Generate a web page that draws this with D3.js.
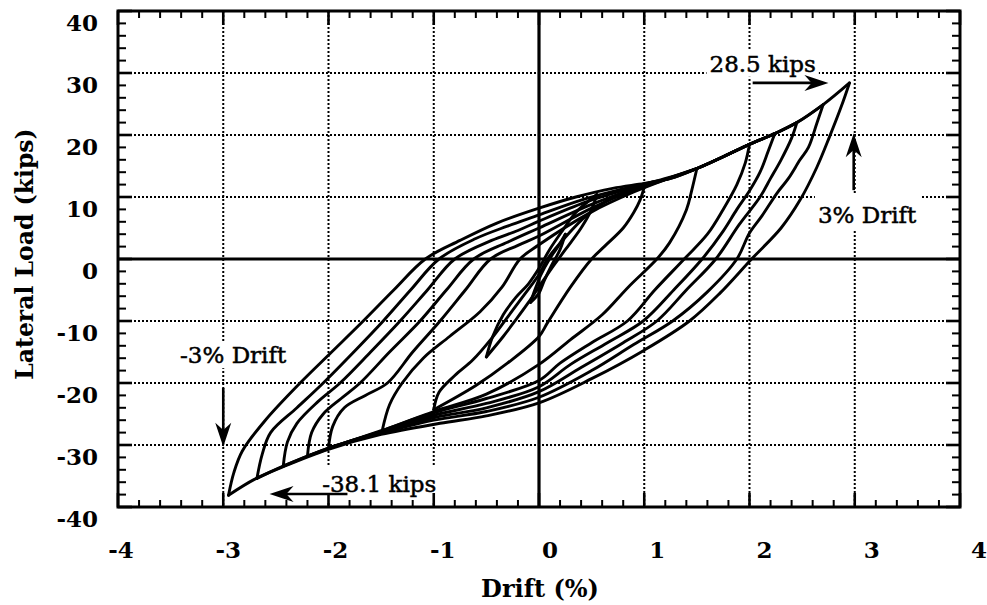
<!DOCTYPE html>
<html>
<head>
<meta charset="utf-8">
<script src="https://cdn.jsdelivr.net/npm/d3@7"></script>
<style>
  body { margin: 0; background: #fff; }
  svg { display: block; }
  text { font-family: "DejaVu Serif", serif; fill: #000; }
</style>
</head>
<body>
<svg width="987" height="605"></svg>
<script>
// axis ticks
const xTicks = [-4, -3, -2, -1, 0, 1, 2, 3, 4];
const yTicks = [-40, -30, -20, -10, 0, 10, 20, 30, 40];

// hysteresis branches, [drift %, load kips]
// "up" = from negative peak to positive peak, "dn" = from positive peak to negative peak
const up300 = [[-2.95,-38.1],[-2.9,-34.5],[-2.82,-31],[-2.6,-26],[-2.27,-20],[-1.97,-15],[-1.67,-10],[-1.38,-5],[-1.08,0],[-0.75,3],[-0.4,5.8],[0,8.2],[0.35,10],[0.7,11.4],[1.0,12.2],[1.25,13],[1.5,14.6],[1.75,16.5],[2.0,18.5],[2.25,20.3],[2.45,22.0],[2.7,24.9],[2.95,28.4]];
const dn300 = [[2.95,28.4],[2.87,24.5],[2.76,19.7],[2.64,14.8],[2.48,9.5],[2.3,5],[2.02,0],[1.72,-5.5],[1.43,-10],[1.0,-14.7],[0.5,-19.3],[0,-23.2],[-0.5,-25.3],[-0.94,-26.5],[-1.5,-28.3],[-2.0,-30.7],[-2.43,-33.5],[-2.7,-35.5],[-2.95,-38.1]];

const up275 = [[-2.68,-35.4],[-2.63,-31.5],[-2.55,-28],[-2.3,-24],[-2.05,-20],[-1.76,-15],[-1.48,-10],[-1.22,-5],[-0.95,0],[-0.6,3.3],[-0.3,5.3],[0,7.1],[0.4,9.5],[0.8,11.3],[1.05,12.3],[1.25,13],[1.5,14.6],[1.75,16.5],[2.0,18.5],[2.25,20.3],[2.45,22.0],[2.7,24.9]];
const dn275 = [[2.7,24.9],[2.64,21.9],[2.56,18],[2.48,16],[2.37,13],[2.26,10.6],[2.12,7],[2.0,4.2],[1.88,0],[1.6,-5.3],[1.27,-10],[0.9,-13.8],[0.5,-18],[0,-22.3],[-0.5,-24.6],[-1.0,-26],[-1.5,-28.1],[-2.0,-30.6],[-2.43,-33.4],[-2.68,-35.4]];

const up250 = [[-2.43,-33.4],[-2.39,-29.5],[-2.3,-26.5],[-2.1,-23],[-1.89,-20],[-1.6,-15],[-1.32,-10],[-1.06,-5],[-0.8,0],[-0.45,3],[-0.2,4.6],[0,6.1],[0.45,9.2],[0.85,11.3],[1.1,12.5],[1.5,14.6],[2.0,18.5],[2.25,20.3],[2.45,22.0]];
const dn250 = [[2.45,22.0],[2.4,19.5],[2.3,16],[2.2,13],[2.1,10],[1.9,5.5],[1.68,0],[1.4,-5],[1.12,-10],[0.8,-13.5],[0.4,-17.5],[0,-21.4],[-0.5,-24],[-1.0,-25.6],[-1.5,-27.9],[-2.0,-30.5],[-2.2,-31.8],[-2.43,-33.4]];

const up225 = [[-2.2,-31.8],[-2.16,-28],[-2.05,-25],[-1.88,-22.5],[-1.7,-20],[-1.42,-15],[-1.13,-10],[-0.88,-5],[-0.62,0],[-0.3,2.7],[0,5.0],[0.5,8.8],[0.9,11.3],[1.15,12.6],[1.5,14.6],[2.0,18.5],[2.24,20.2]];
const dn225 = [[2.24,20.2],[2.18,17.5],[2.1,14],[2.0,11],[1.88,8],[1.75,4.5],[1.55,0],[1.28,-5],[0.99,-10],[0.65,-13.5],[0.3,-17],[0,-20.6],[-0.5,-23.3],[-1.0,-25.2],[-1.5,-27.8],[-2.0,-30.5],[-2.2,-31.8]];

const up200 = [[-2.0,-30.5],[-1.96,-27],[-1.85,-24],[-1.65,-22],[-1.44,-20],[-1.2,-15],[-0.94,-10],[-0.7,-5],[-0.46,0],[-0.2,2.2],[0,3.7],[0.5,8.2],[0.9,11.1],[1.2,12.8],[1.5,14.6],[1.75,16.5],[2.0,18.5]];
const dn200 = [[2.0,18.5],[1.96,15.5],[1.88,12],[1.75,8],[1.6,4],[1.38,0],[1.1,-5],[0.84,-10],[0.5,-13.5],[0.2,-16.8],[0,-19.6],[-0.5,-22.5],[-1.0,-24.8],[-1.5,-27.7],[-2.0,-30.5]];

const up150 = [[-1.49,-27.7],[-1.42,-23.5],[-1.3,-20],[-1.1,-16],[-0.85,-12.5],[-0.56,-8.5],[-0.35,-4.5],[-0.18,0],[0,2.3],[0.5,7.6],[0.9,10.8],[1.2,12.8],[1.5,14.6]];
const dn150 = [[1.5,14.6],[1.45,11],[1.4,7.9],[1.24,2.6],[1.12,0],[0.85,-4.5],[0.6,-9],[0.3,-13],[0,-17],[-0.5,-21.8],[-1.0,-24.6],[-1.49,-27.7]];

const up100 = [[-1.0,-24.3],[-0.95,-21.5],[-0.8,-18.8],[-0.63,-16.3],[-0.45,-12.8],[-0.3,-9.4],[-0.15,-6],[0,-2.5],[0.08,0],[0.25,3.5],[0.45,7],[0.7,9.9],[1.0,11.6]];
const dn100 = [[1.0,11.6],[0.96,9.5],[0.9,7.5],[0.8,5],[0.62,2],[0.5,0],[0.3,-4.5],[0.08,-10.3],[0,-12.5],[-0.3,-16.8],[-0.6,-20.4],[-1.0,-24.3]];

const up050 = [[-0.5,-15.8],[-0.44,-12.5],[-0.34,-9],[-0.22,-6.2],[-0.1,-4],[0,-1.5],[0.1,1.5],[0.22,4.5],[0.35,7.5],[0.55,10.4]];
const dn050 = [[0.55,10.4],[0.5,8],[0.4,5],[0.25,1.5],[0.12,-1.5],[0,-4.5],[-0.1,-7],[-0.22,-9.8],[-0.34,-12.5],[-0.5,-15.8]];

const up025 = [[-0.08,-7],[-0.04,-5],[0.02,-2.5],[0.1,0],[0.18,2],[0.25,4]];
const dn025 = [[0.25,4],[0.2,1.5],[0.12,-1],[0.05,-3.5],[0,-5.5],[-0.08,-7]];

const branches = [up025, dn025, up050, dn050, up100, dn100, up150, dn150, up200, dn200,
                  up225, dn225, up250, dn250, up275, dn275, up300, dn300];

// annotations: text and where it starts (data units), arrows (tail -> head)
const noteTexts = ["28.5 kips", "3% Drift", "-3% Drift", "-38.1 kips"];
const noteAt = [[1.62, 30.2], [2.65, 5.8], [-3.41, -16.8], [-2.06, -37.6]];
const arrowFrom = [[2.03, 28.4], [2.99, 11.1], [-3.0, -20.8], [-1.82, -37.9]];
const arrowTo = [[2.75, 28.4], [2.99, 20.3], [-3.0, -30.3], [-2.56, -37.9]];

const svg = d3.select("svg");
const area = { left: 118, right: 960, top: 11, bottom: 507 };

const x = d3.scaleLinear().domain([-4, 4]).range([area.left, area.right]);
const y = d3.scaleLinear().domain([-40, 40]).range([area.bottom, area.top]);
// the printed x labels sit on a slightly wider spacing than the grid
const xLabel = d3.scaleLinear().domain([-4, 4]).range([121, 979]);

// dotted grid
svg.append("g")
    .selectAll("line")
    .data(xTicks.filter(d => d !== 0))
    .enter()
    .append("line")
    .attr("x1", d => x(d)).attr("x2", d => x(d))
    .attr("y1", area.top).attr("y2", area.bottom)
    .attr("stroke", "#000").attr("stroke-width", 2)
    .attr("stroke-dasharray", "2,2");

svg.append("g")
    .selectAll("line")
    .data(yTicks.filter(d => d !== 0))
    .enter()
    .append("line")
    .attr("x1", area.left).attr("x2", area.right)
    .attr("y1", d => y(d)).attr("y2", d => y(d))
    .attr("stroke", "#000").attr("stroke-width", 2)
    .attr("stroke-dasharray", "2,2");

// solid zero axes
svg.append("line")
    .attr("x1", area.left).attr("x2", area.right)
    .attr("y1", y(0)).attr("y2", y(0))
    .attr("stroke", "#000").attr("stroke-width", 3.2);
svg.append("line")
    .attr("x1", x(0)).attr("x2", x(0))
    .attr("y1", area.top).attr("y2", area.bottom)
    .attr("stroke", "#000").attr("stroke-width", 3.2);

// annotation text on white boxes (they blank the grid behind them)
const boxPad = [[4, 3, 4, 3], [13, 3, 5, 3], [4, 3, 4, 3], [10, 3, 8, 3]]; // top right bottom left
const noteG = svg.append("g");
noteTexts.forEach((t, i) => {
    const g = noteG.append("g");
    const rect = g.append("rect").attr("fill", "#fff");
    const txt = g.append("text")
        .attr("x", x(noteAt[i][0]))
        .attr("y", y(noteAt[i][1]))
        .style("font-size", "23px")
        .style("stroke", "#000")
        .style("stroke-width", 0.5)
        .text(t);
    const b = txt.node().getBBox();
    const p = boxPad[i];
    rect.attr("x", b.x - p[3]).attr("y", b.y - p[0] + 4)
        .attr("width", b.width + p[1] + p[3])
        .attr("height", b.height + p[0] + p[2] - 8);
});

// hysteresis curves
const line = d3.line()
    .x(d => x(d[0]))
    .y(d => y(d[1]))
    .curve(d3.curveCatmullRom.alpha(0.5));

svg.append("g")
    .selectAll("path")
    .data(branches)
    .enter()
    .append("path")
    .attr("d", line)
    .attr("fill", "none")
    .attr("stroke", "#000")
    .attr("stroke-width", 2.9)
    .attr("stroke-linejoin", "round")
    .attr("stroke-linecap", "round");

// arrows
const arrowG = svg.append("g");
arrowFrom.forEach((f, i) => {
    const x1 = x(f[0]), y1 = y(f[1]);
    const x2 = x(arrowTo[i][0]), y2 = y(arrowTo[i][1]);
    const len = Math.hypot(x2 - x1, y2 - y1);
    const ux = (x2 - x1) / len, uy = (y2 - y1) / len;
    const head = 24, half = 8;
    const bx = x2 - ux * head, by = y2 - uy * head;
    const nx = -uy, ny = ux;
    arrowG.append("line")
        .attr("x1", x1).attr("y1", y1)
        .attr("x2", x2 - ux * 6).attr("y2", y2 - uy * 6)
        .attr("stroke", "#000").attr("stroke-width", 2.6);
    const cx = x2 - ux * head * 0.7, cy = y2 - uy * head * 0.7;
    arrowG.append("path")
        .attr("d", `M${x2},${y2}L${bx + nx * half},${by + ny * half}L${cx},${cy}L${bx - nx * half},${by - ny * half}Z`)
        .attr("fill", "#000");
});

// frame
svg.append("rect")
    .attr("x", area.left).attr("y", area.top)
    .attr("width", area.right - area.left)
    .attr("height", area.bottom - area.top)
    .attr("fill", "none")
    .attr("stroke", "#000")
    .attr("stroke-width", 3);

// inward ticks on all four sides
const tickG = svg.append("g").attr("stroke", "#000");
const isMajorX = d => Math.abs(d - Math.round(d)) < 1e-6;
const isMajorY = d => Math.abs(d / 10 - Math.round(d / 10)) < 1e-6;
x.ticks(40).forEach(d => {
    const len = isMajorX(d) ? 14 : 7;
    const w = isMajorX(d) ? 2.6 : 2;
    tickG.append("line").attr("x1", x(d)).attr("x2", x(d))
        .attr("y1", area.bottom).attr("y2", area.bottom - len).attr("stroke-width", w);
    tickG.append("line").attr("x1", x(d)).attr("x2", x(d))
        .attr("y1", area.top).attr("y2", area.top + len).attr("stroke-width", w);
});
y.ticks(40).forEach(d => {
    const len = isMajorY(d) ? 14 : 8;
    const w = isMajorY(d) ? 2.6 : 2;
    tickG.append("line").attr("y1", y(d)).attr("y2", y(d))
        .attr("x1", area.left).attr("x2", area.left + len).attr("stroke-width", w);
    tickG.append("line").attr("y1", y(d)).attr("y2", y(d))
        .attr("x1", area.right).attr("x2", area.right - len).attr("stroke-width", w);
});

// tick labels
svg.append("g")
    .selectAll("text")
    .data(xTicks)
    .enter()
    .append("text")
    .attr("x", d => xLabel(d))
    .attr("y", 558)
    .attr("text-anchor", "middle")
    .style("font-size", "23px")
    .style("font-weight", "bold")
    .text(d => d);

svg.append("g")
    .selectAll("text")
    .data(yTicks)
    .enter()
    .append("text")
    .attr("x", 98)
    .attr("y", d => y(d) + 20)
    .attr("text-anchor", "end")
    .style("font-size", "23px")
    .style("font-weight", "bold")
    .text(d => d);

// axis titles
svg.append("text")
    .attr("x", 540)
    .attr("y", 597)
    .attr("text-anchor", "middle")
    .style("font-size", "24px")
    .style("font-weight", "bold")
    .text("Drift (%)");

svg.append("text")
    .attr("transform", "translate(33,254) rotate(-90)")
    .attr("text-anchor", "middle")
    .style("font-size", "23.5px")
    .style("font-weight", "bold")
    .text("Lateral Load (kips)");
</script>
</body>
</html>
